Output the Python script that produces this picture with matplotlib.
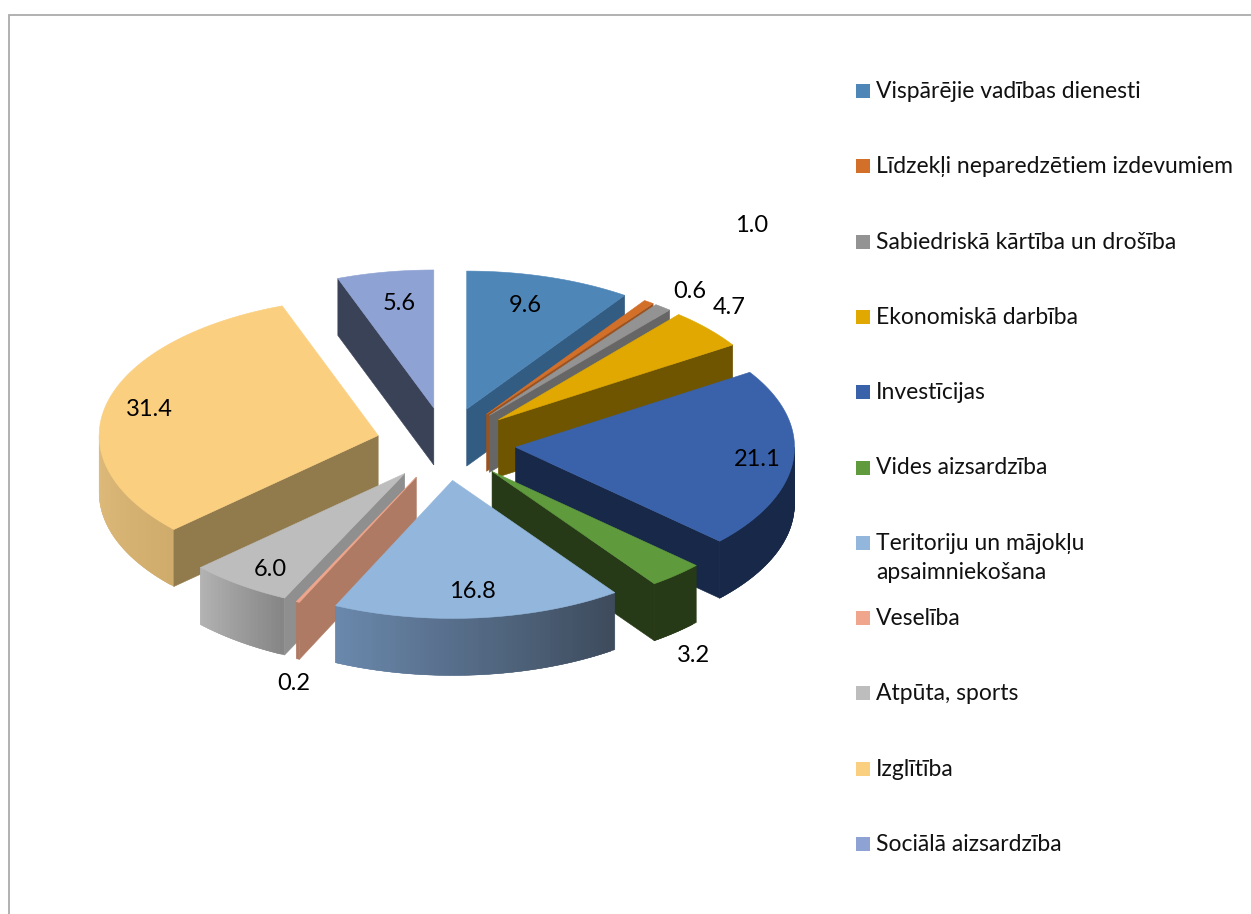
#!/usr/bin/env python3
# -*- coding: utf-8 -*-

import numpy as np
import matplotlib
matplotlib.use("Agg")
import matplotlib.pyplot as plt
from matplotlib.colors import to_rgb
from matplotlib.patches import Polygon, Rectangle

# Data
categories = ["Vispārējie vadības dienesti", "Līdzekļi neparedzētiem izdevumiem",
              "Sabiedriskā kārtība un drošība", "Ekonomiskā darbība", "Investīcijas",
              "Vides aizsardzība", "Teritoriju un mājokļu\napsaimniekošana", "Veselība",
              "Atpūta, sports", "Izglītība", "Sociālā aizsardzība"]
values = [9.6, 0.6, 1.0, 4.7, 21.1, 3.2, 16.8, 0.2, 6.0, 31.4, 5.6]

# Colours: top of the slice, cut faces, rim (left and right end of the shading)
top_colors = ["#4E86B8", "#D2702A", "#939393", "#E0A800", "#3A62AA", "#5F9A3D",
              "#93B6DC", "#EFA68C", "#BDBDBD", "#FBCF80", "#8FA2D4"]
face_colors = ["#335C82", "#9A5220", "#666666", "#6F5500", "#172848", "#273A17",
               "#3D4B5C", "#AF7A64", "#8F8F8F", "#917A4C", "#3A4258"]
rim_left = ["#335C82", "#9A5220", "#666666", "#6F5500", "#172848", "#273A17",
            "#6A88AC", "#AF7A64", "#B2B2B2", "#E0BC7C", "#3A4258"]
rim_right = ["#335C82", "#9A5220", "#666666", "#6F5500", "#172848", "#273A17",
             "#3D4B5C", "#AF7A64", "#868686", "#D0AC6C", "#3A4258"]

# Layout of the pie, in pixels
CX, CY = 446, 444
RX, RY = 279, 138
DEPTH = 57
EXPLODE_X, EXPLODE_Y = 0.25, 0.265

label_x = [525, 690, 752, 729, 757, 693, 472, 294, 270, 149, 399]
label_y = [306, 291, 225, 307, 460, 656, 592, 684, 569, 410, 304]

FONT = ["Lato", "Noto Sans"]


def rim_point(apex, theta):
    return apex[0] + RX * np.sin(theta), apex[1] - RY * np.cos(theta)


def draw_slice(ax, i, start, end):
    """Dessine une part : bord extérieur, face coupée puis dessus"""
    mid = (start + end) / 2
    apex = (CX + EXPLODE_X * RX * np.sin(mid), CY - EXPLODE_Y * RY * np.cos(mid))

    # Bord extérieur, seulement la partie tournée vers nous
    lo, hi = max(start, np.pi / 2), min(end, 3 * np.pi / 2)
    if hi > lo:
        n = max(int(np.degrees(hi - lo)), 1)
        steps = np.linspace(lo, hi, n + 1)
        c_right = np.array(to_rgb(rim_right[i]))
        c_left = np.array(to_rgb(rim_left[i]))
        for k in range(n):
            # chaque bande recouvre la suivante pour éviter les raies
            x0, y0 = rim_point(apex, steps[k])
            x1, y1 = rim_point(apex, steps[min(k + 2, n)])
            t = k / max(n - 1, 1)
            color = c_right + (c_left - c_right) * t
            ax.add_patch(Polygon([(x0, y0), (x1, y1), (x1, y1 + DEPTH), (x0, y0 + DEPTH)],
                                 facecolor=color, edgecolor=color, lw=0.3))

    # Face coupée visible
    for theta, visible in [(start, np.sin(start) < 0), (end, np.sin(end) > 0)]:
        if visible:
            x, y = rim_point(apex, theta)
            ax.add_patch(Polygon([apex, (x, y), (x, y + DEPTH), (apex[0], apex[1] + DEPTH)],
                                 facecolor=face_colors[i], edgecolor=face_colors[i], lw=0.4))

    # Dessus
    steps = np.linspace(start, end, max(int(np.degrees(end - start)) * 2, 2))
    points = [apex] + [rim_point(apex, t) for t in steps]
    ax.add_patch(Polygon(points, facecolor=top_colors[i], edgecolor=top_colors[i], lw=0.4))


fig = plt.figure(figsize=(12.51, 9.14), dpi=100)
ax = fig.add_axes([0, 0, 1, 1])
ax.set_xlim(0, 1251)
ax.set_ylim(914, 0)
ax.axis("off")

# Cadre du graphique (coupé à droite et en bas)
ax.plot([9, 9, 1251], [914, 15, 15], color="#ABABAB", lw=1.3, solid_joinstyle="miter")

# Angles des parts, sens horaire depuis le haut
edges = np.concatenate([[0], np.cumsum(values)]) / sum(values) * 2 * np.pi
mids = (edges[:-1] + edges[1:]) / 2

# Du fond vers l'avant
for i in np.argsort(-np.cos(mids)):
    draw_slice(ax, i, edges[i], edges[i + 1])

for x, y, v in zip(label_x, label_y, values):
    ax.text(x, y, "{:.1f}".format(v), ha="center", va="center", fontsize=17,
            family=FONT, color="black")

# Légende
for i, name in enumerate(categories):
    y = 91 + 75.3 * i
    ax.add_patch(Rectangle((856, y - 7), 14, 14, facecolor=top_colors[i], edgecolor="none"))
    ax.text(876, y - 10, name, ha="left", va="top", fontsize=16.5, family=FONT,
            color="#111111", linespacing=1.5)

fig.savefig("out.png", dpi=100)
